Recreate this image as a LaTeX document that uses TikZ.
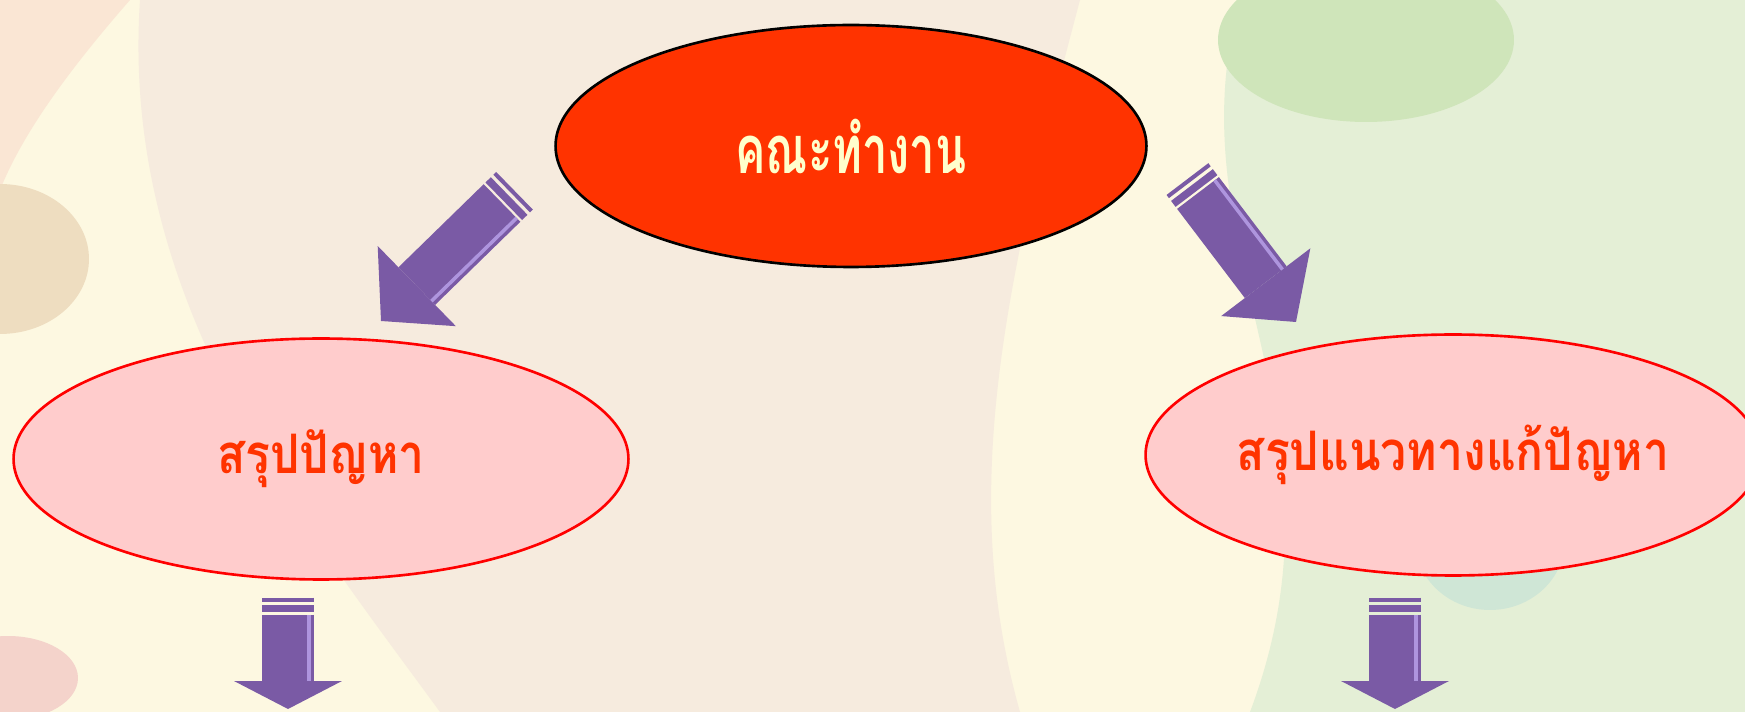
\documentclass[tikz,border=0pt]{standalone}
\usepackage{fontspec}
\newfontfamily\thaitop[Script=Thai,FakeStretch=0.68]{Loma}
\newfontfamily\thaisub[Script=Thai,FakeStretch=0.85]{Loma}
\usetikzlibrary{shapes.geometric,arrows.meta,calc}

\definecolor{topfill}{HTML}{FF3300}
\definecolor{toptext}{HTML}{FFFFCC}
\definecolor{subfill}{HTML}{FFCCCC}
\definecolor{subline}{HTML}{FF0000}
\definecolor{subtext}{HTML}{FF3300}
\definecolor{arrowpurple}{HTML}{7A5AA5}
\definecolor{arrowlight}{HTML}{AE95DE}

\tikzset{
  topbox/.style={ellipse, draw=black, line width=1.5pt, fill=topfill, text=toptext,
    minimum width=11.82cm, minimum height=4.84cm, inner sep=0pt,
    font=\thaitop\bfseries\fontsize{38}{44}\selectfont},
  subbox/.style={ellipse, draw=subline, line width=1.5pt, fill=subfill, text=subtext,
    minimum width=12.3cm, minimum height=4.82cm, inner sep=0pt,
    font=\thaisub\bfseries\fontsize{31}{36}\selectfont},
  blockarrow/.style 2 args={arrowpurple, line width=1.05cm,
    -{Triangle[length=#1, width=#2, line width=0pt]}},
  stripes/.style={arrowpurple, line width=1.05cm,
    dash pattern=on 0.08cm off 0.07cm on 0.15cm off 0.05cm},
  glint/.style={arrowlight, line width=0.07cm}
}

\begin{document}
\begin{tikzpicture}[x=0.02cm,y=-0.02cm]
\useasboundingbox (0,0) rectangle (1745,712);
\clip (0,0) rectangle (1745,712);

% background
\fill[fill={rgb,255:red,253;green,248;blue,225}] (0,0) rectangle (1745,712);
\fill[fill={rgb,255:red,250;green,230;blue,212}] (0,0) -- (130,0) .. controls (60,80) and (20,140) .. (0,190) -- cycle;
\fill[fill={rgb,255:red,246;green,235;blue,222}] (140,0) .. controls (120,300) and (300,520) .. (440,712)
  -- (1020,712) .. controls (960,500) and (1000,300) .. (1080,0) -- cycle;
\fill[fill={rgb,255:red,228;green,239;blue,214}] (1240,0) .. controls (1170,250) and (1360,420) .. (1250,712)
  -- (1745,712) -- (1745,0) -- cycle;
\fill[fill={rgb,255:red,207;green,229;blue,186}] (1366,40) ellipse [x radius=2.96cm, y radius=1.64cm];
\fill[fill={rgb,255:red,238;green,221;blue,192}] (0,259) ellipse [x radius=1.78cm, y radius=1.5cm];
\fill[fill={rgb,255:red,244;green,211;blue,203}] (8,678) ellipse [x radius=1.4cm, y radius=0.84cm];
\fill[fill={rgb,255:red,207;green,230;blue,214}] (1490,540) ellipse [x radius=1.5cm, y radius=1.4cm];

% ellipses
\node[topbox] (work) at (851,146) {คณะทำงาน};
\node[subbox] (problem) at (321,459) {สรุปปัญหา};
\node[subbox] (solution) at (1453,455) {สรุปแนวทางแก้ปัญหา};

% arrow ends
\coordinate (ls) at (502,203);
\coordinate (lt) at (381,321);
\coordinate (rs) at (1198,193);
\coordinate (rt) at (1296,322);
\coordinate (bls) at (288,615);
\coordinate (blt) at (288,709);
\coordinate (brs) at (1395,615);
\coordinate (brt) at (1395,709);

\draw[stripes] ($(ls)!-0.35cm!(lt)$) -- (ls);
\draw[blockarrow={1.0cm}{2.24cm}] (ls) -- (lt);
\draw[glint, shorten >=1.0cm] ($(ls)!0.42cm!90:(lt)$) -- ($(lt)!0.42cm!-90:(ls)$);
\draw[stripes] ($(rs)!-0.35cm!(rt)$) -- (rs);
\draw[blockarrow={1.0cm}{2.24cm}] (rs) -- (rt);
\draw[glint, shorten >=1.0cm] ($(rs)!0.42cm!90:(rt)$) -- ($(rt)!0.42cm!-90:(rs)$);
\draw[stripes] ($(bls)!-0.35cm!(blt)$) -- (bls);
\draw[blockarrow={0.56cm}{2.16cm}] (bls) -- (blt);
\draw[glint, shorten >=0.56cm] ($(bls)!0.42cm!90:(blt)$) -- ($(blt)!0.42cm!-90:(bls)$);
\draw[stripes] ($(brs)!-0.35cm!(brt)$) -- (brs);
\draw[blockarrow={0.56cm}{2.16cm}] (brs) -- (brt);
\draw[glint, shorten >=0.56cm] ($(brs)!0.42cm!90:(brt)$) -- ($(brt)!0.42cm!-90:(brs)$);
\end{tikzpicture}
\end{document}
